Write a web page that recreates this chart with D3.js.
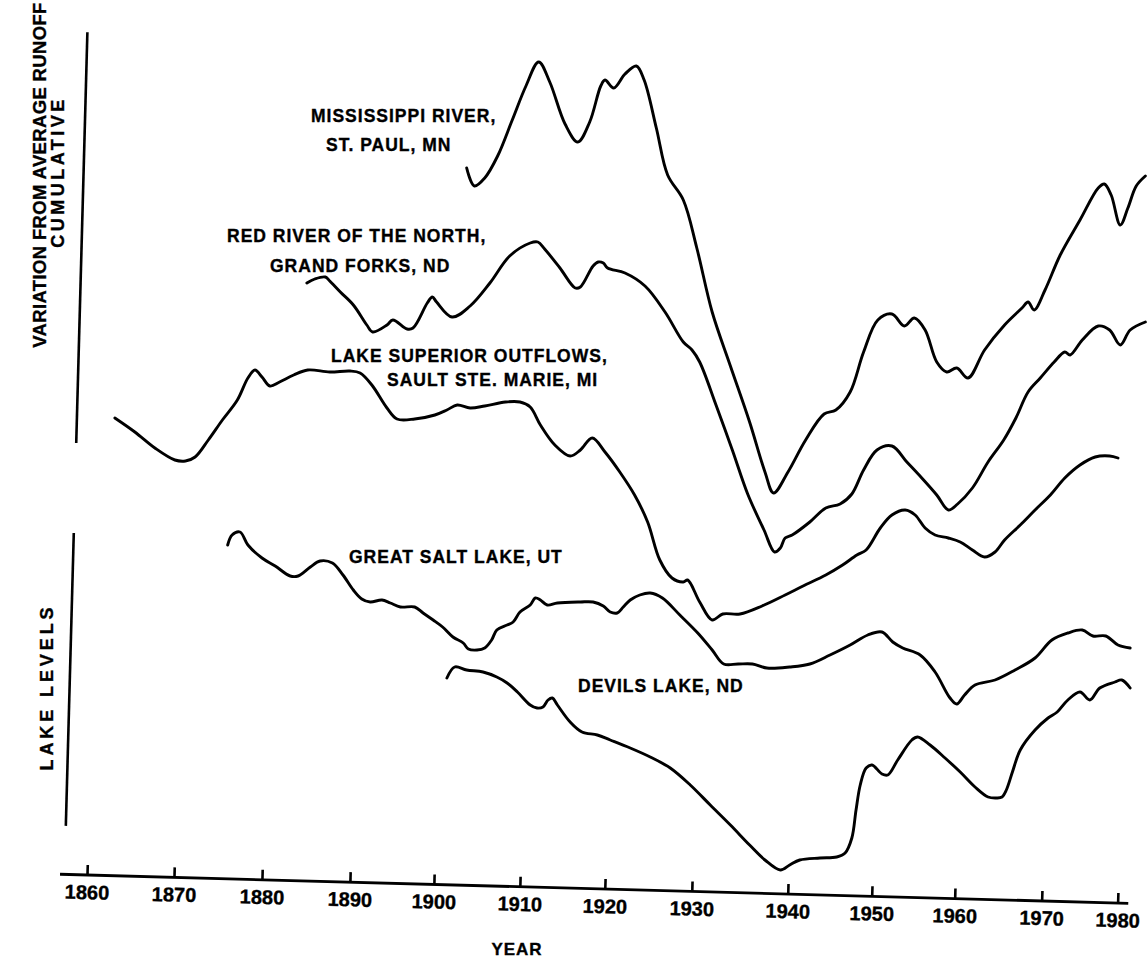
<!DOCTYPE html>
<html><head><meta charset="utf-8">
<script src="https://cdn.jsdelivr.net/npm/d3@7"></script>
<style>
html,body{margin:0;padding:0;background:#fff;}
svg{display:block;}
text{font-family:"Liberation Sans",Arial,sans-serif;font-weight:bold;fill:#000;stroke:#000;stroke-width:0.35px;}
</style></head><body>
<svg id="chart" width="1147" height="961"></svg>
<script>
// ---------- data (year, relative value) ----------
const tickYears = [1860,1870,1880,1890,1900,1910,1920,1930,1940,1950,1960,1970,1980];
const tickLabels = ["1860","1870","1880","1890","1900","1910","1920","1930","1940","1950","1960","1970","1980"];

const mississippi = [[1903.8,71.2],[1904.7,69.4],[1905.9,70.2],[1907.4,72.4],[1909.1,76.0],[1910.7,79.4],[1912.2,81.8],[1913.5,79.8],[1915.3,75.6],[1916.8,73.8],[1918.2,75.8],[1919.5,79.4],[1920.0,80.0],[1921.0,79.2],[1922.3,80.6],[1923.6,81.4],[1924.5,80.0],[1925.9,75.2],[1927.2,70.5],[1929.0,68.0],[1930.5,63.2],[1932.1,56.8],[1934.0,51.4],[1936.0,45.8],[1937.6,40.8],[1938.5,38.7],[1940.0,40.8],[1942.1,44.0],[1944.3,46.6],[1945.7,47.0],[1947.4,48.8],[1949.0,52.8],[1950.7,56.0],[1952.4,56.6],[1953.9,55.4],[1955.1,56.2],[1956.4,55.0],[1957.8,51.8],[1959.0,50.8],[1960.2,51.2],[1961.5,50.2],[1963.4,53.0],[1965.7,55.5],[1967.7,57.2],[1968.4,57.8],[1969.1,57.0],[1970.4,59.0],[1972.4,62.5],[1975.0,66.0],[1977.4,69.2],[1978.2,69.6],[1979.1,68.5],[1980.3,65.5],[1981.3,67.2],[1982.4,69.4],[1983.6,70.4]];

const redRiver = [[1885.1,59.7],[1886.0,60.1],[1887.2,60.3],[1887.7,59.9],[1888.9,58.8],[1890.4,57.5],[1892.0,55.5],[1892.7,54.8],[1894.4,55.5],[1895.1,56.0],[1896.8,55.1],[1897.5,55.2],[1899.2,57.7],[1899.8,58.3],[1900.3,57.8],[1902.1,56.3],[1904.2,57.4],[1906.5,59.7],[1908.8,62.4],[1911.2,63.7],[1912.1,63.8],[1912.9,63.1],[1914.7,61.2],[1916.5,59.2],[1917.1,59.3],[1918.6,61.4],[1919.2,61.8],[1919.8,61.7],[1920.3,61.2],[1922.3,60.7],[1924.6,59.4],[1926.9,56.8],[1929.0,53.8],[1930.0,53.0],[1930.8,51.8],[1932.5,47.5],[1934.2,43.0],[1935.8,38.6],[1937.5,35.0],[1938.6,32.8],[1939.2,33.2],[1939.7,34.2],[1940.5,34.5],[1942.6,35.8],[1944.5,37.2],[1946.2,37.6],[1947.6,38.6],[1949.0,41.0],[1950.6,43.0],[1952.4,43.4],[1954.2,41.8],[1956.0,40.2],[1957.8,38.5],[1959.2,37.0],[1960.3,37.6],[1962.0,39.2],[1963.8,41.8],[1965.6,44.0],[1967.0,46.2],[1968.4,48.8],[1969.8,50.2],[1971.6,51.8],[1973.0,52.8],[1973.7,52.5],[1975.3,54.0],[1977.4,55.4],[1978.9,55.0],[1980.3,53.5],[1981.6,55.0],[1983.6,55.8]];

const lakeSuperior = [[1863.2,46.2],[1865.5,44.8],[1867.8,43.2],[1870.1,42.0],[1871.3,41.9],[1872.4,42.3],[1873.9,44.0],[1875.5,46.0],[1877.2,48.0],[1878.4,50.2],[1879.2,51.0],[1880.0,50.3],[1880.9,49.4],[1882.0,49.8],[1883.6,50.5],[1885.2,51.0],[1887.7,50.8],[1890.0,50.9],[1891.2,50.7],[1892.6,49.5],[1894.4,47.2],[1895.6,46.1],[1897.7,46.1],[1900.1,46.5],[1901.5,47.0],[1902.7,47.5],[1904.2,47.2],[1905.9,47.4],[1908.3,47.8],[1910.0,47.8],[1911.2,47.3],[1912.4,45.5],[1914.1,43.5],[1915.9,42.4],[1917.1,43.0],[1918.5,44.2],[1920.0,42.8],[1921.7,40.8],[1923.4,38.5],[1924.9,35.8],[1926.3,32.0],[1927.7,30.2],[1929.0,29.8],[1929.5,30.0],[1930.8,27.8],[1932.1,26.0],[1933.2,26.6],[1935.0,26.6],[1937.3,27.4],[1939.7,28.5],[1941.8,29.4],[1944.5,30.5],[1946.5,31.5],[1948.2,32.5],[1949.3,33.0],[1951.0,35.2],[1952.4,36.5],[1954.0,37.0],[1955.2,36.5],[1956.4,35.2],[1957.6,34.5],[1959.2,34.2],[1960.6,33.8],[1962.0,33.0],[1963.4,32.3],[1964.6,32.8],[1965.7,34.0],[1967.5,35.5],[1969.2,37.0],[1971.1,38.5],[1973.0,40.2],[1975.0,41.5],[1977.0,42.3],[1978.9,42.4],[1980.0,42.2]];

const greatSaltLake = [[1876.1,33.5],[1876.6,34.5],[1877.5,34.8],[1878.4,33.5],[1880.0,32.2],[1881.5,31.4],[1883.2,30.4],[1884.1,30.4],[1885.5,31.3],[1886.6,31.9],[1888.0,31.7],[1889.2,30.5],[1890.4,29.0],[1891.4,28.1],[1892.4,27.8],[1893.8,28.0],[1894.8,27.7],[1896.0,27.3],[1897.7,27.3],[1898.7,26.7],[1899.9,26.0],[1901.0,25.3],[1902.2,24.3],[1903.4,23.7],[1904.0,23.1],[1905.0,23.0],[1905.9,23.2],[1906.7,24.0],[1907.3,25.0],[1908.5,25.5],[1909.2,25.8],[1910.0,26.8],[1911.2,27.5],[1911.8,28.2],[1912.4,28.0],[1913.2,27.5],[1914.4,27.7],[1917.1,27.8],[1918.6,27.8],[1919.8,27.4],[1920.6,26.8],[1921.4,26.7],[1922.1,27.3],[1922.9,28.0],[1924.0,28.5],[1925.2,28.7],[1926.6,28.2],[1928.6,26.5],[1930.6,24.7],[1932.1,23.0],[1933.3,21.6],[1934.8,21.6],[1936.3,21.6],[1937.8,21.2],[1940.2,21.3],[1942.6,21.6],[1945.0,22.5],[1947.4,23.5],[1949.5,24.5],[1951.2,24.8],[1952.5,23.8],[1953.7,23.2],[1955.8,22.5],[1957.6,20.8],[1959.4,18.2],[1960.2,17.6],[1961.1,18.5],[1962.3,19.5],[1964.6,20.0],[1966.9,21.0],[1969.2,22.2],[1971.3,24.0],[1973.4,24.7],[1975.3,25.0],[1976.7,24.4],[1978.4,24.4],[1980.0,23.5],[1981.6,23.2]];

const devilsLake = [[1901.5,20.2],[1902.4,21.3],[1903.8,21.0],[1905.7,20.8],[1907.3,20.3],[1908.5,19.7],[1909.7,18.8],[1911.2,17.5],[1912.0,17.2],[1912.7,17.3],[1913.3,18.0],[1913.8,18.2],[1914.4,17.5],[1915.9,15.8],[1917.3,14.8],[1919.1,14.5],[1920.6,14.0],[1922.9,13.2],[1925.2,12.3],[1927.5,11.2],[1929.8,9.5],[1931.9,7.5],[1934.0,5.5],[1936.0,3.5],[1937.6,2.0],[1939.2,1.0],[1940.2,1.5],[1941.4,2.0],[1943.8,2.2],[1945.8,2.3],[1946.8,2.7],[1947.6,4.2],[1948.1,7.0],[1948.6,9.5],[1949.3,11.2],[1950.0,11.5],[1951.2,10.6],[1951.9,10.5],[1953.1,12.0],[1954.8,14.0],[1955.5,14.3],[1957.0,13.5],[1958.8,12.2],[1960.6,10.8],[1962.3,9.3],[1963.8,8.3],[1964.8,8.2],[1965.4,8.3],[1965.9,9.0],[1966.6,10.8],[1967.5,13.0],[1969.2,15.0],[1970.8,16.2],[1972.0,16.8],[1973.4,18.0],[1975.0,18.8],[1976.3,18.0],[1977.6,19.2],[1979.6,19.8],[1980.5,20.0],[1981.6,19.2]];

const seriesNames = ["MISSISSIPPI RIVER,|ST. PAUL, MN","RED RIVER OF THE NORTH,|GRAND FORKS, ND","LAKE SUPERIOR OUTFLOWS,|SAULT STE. MARIE, MI","GREAT SALT LAKE, UT","DEVILS LAKE, ND"];
const panelTitles = ["VARIATION FROM AVERAGE RUNOFF","CUMULATIVE","LAKE LEVELS"];
const panelExtents = [[43.7,84.8],[5.4,34.7]];
const axisTitle = "YEAR";
const axisExtent = [1857,1981.4];

// ---------- scales ----------
const W = 1147, H = 961;
const svg = d3.select("#chart");
svg.append("rect").attr("width",W).attr("height",H).attr("fill","#fff");

const x = d3.scaleLinear()
  .domain([1857,1860,1870,1880,1890,1900,1910,1920,1930,1940,1950,1960,1970,1980,1984])
  .range([60,87,174,262,350,434,520,605,692,788,872,955,1042,1118,1148.4]);
const y = d3.scaleLinear().domain([0,85]).range([880,30]);

// ---------- skewed frame (the scanned page is tilted slightly) ----------
const frame = svg.append("g").attr("transform","rotate(1.556,87,875)");

const xAxis = d3.axisBottom(x).tickValues(tickYears)
  .tickFormat((d,i)=>tickLabels[i]).tickSizeInner(-10).tickSizeOuter(0).tickPadding(10);
const gx = frame.append("g").attr("transform","translate(0,875)").call(xAxis);
gx.select(".domain").remove();
gx.selectAll(".tick line").attr("stroke","#000").attr("stroke-width",2.6);
gx.selectAll(".tick text").attr("font-size",20).attr("font-family","Liberation Sans, Arial, sans-serif")
  .attr("font-weight","bold").attr("fill","#000");
gx.append("line").attr("x1",x(axisExtent[0])).attr("x2",x(axisExtent[1]))
  .attr("y1",0).attr("y2",0).attr("stroke","#000").attr("stroke-width",2.8);

panelExtents.forEach(ext=>{
  const ys = d3.scaleLinear().domain(ext).range([y(ext[0]),y(ext[1])]);
  const ax = d3.axisLeft(ys).tickValues([]).tickSizeOuter(0);
  const g = frame.append("g").attr("transform","translate(64,0)").call(ax);
  g.select(".domain").attr("stroke","#000").attr("stroke-width",2.6);
});

// ---------- curves ----------
const line = d3.line().x(d=>x(d[0])).y(d=>y(d[1])).curve(d3.curveCatmullRom.alpha(0.5));
const allSeries = [mississippi, redRiver, lakeSuperior, greatSaltLake, devilsLake];
svg.append("g").selectAll("path").data(allSeries).join("path")
  .attr("d",line).attr("fill","none").attr("stroke","#000")
  .attr("stroke-width",2.9).attr("stroke-linejoin","round").attr("stroke-linecap","round");

// ---------- labels ----------
const labelPos = [
  [[311,122],[326,151]],
  [[227,242],[270,272]],
  [[331,362],[387,386]],
  [[349,563]],
  [[578,692]]
];
seriesNames.forEach((s,i)=>{
  s.split("|").forEach((t,j)=>{
    svg.append("text").attr("x",labelPos[i][j][0]).attr("y",labelPos[i][j][1])
      .attr("font-size",17.5).attr("letter-spacing",1.0).text(t);
  });
});

const titlePos = [[39,175,18.5,0.35],[58,172,18,3.5],[47,687,18,3.9]];
panelTitles.forEach((t,i)=>{
  const [cx,cy,fs,ls] = titlePos[i];
  svg.append("text").attr("transform",`translate(${cx},${cy}) rotate(-90)`)
    .attr("text-anchor","middle").attr("dominant-baseline","central")
    .attr("font-size",fs).attr("letter-spacing",ls).text(t);
});

svg.append("text").attr("x",517).attr("y",955).attr("text-anchor","middle")
  .attr("font-size",17).attr("letter-spacing",1).text(axisTitle);
</script>
</body></html>
